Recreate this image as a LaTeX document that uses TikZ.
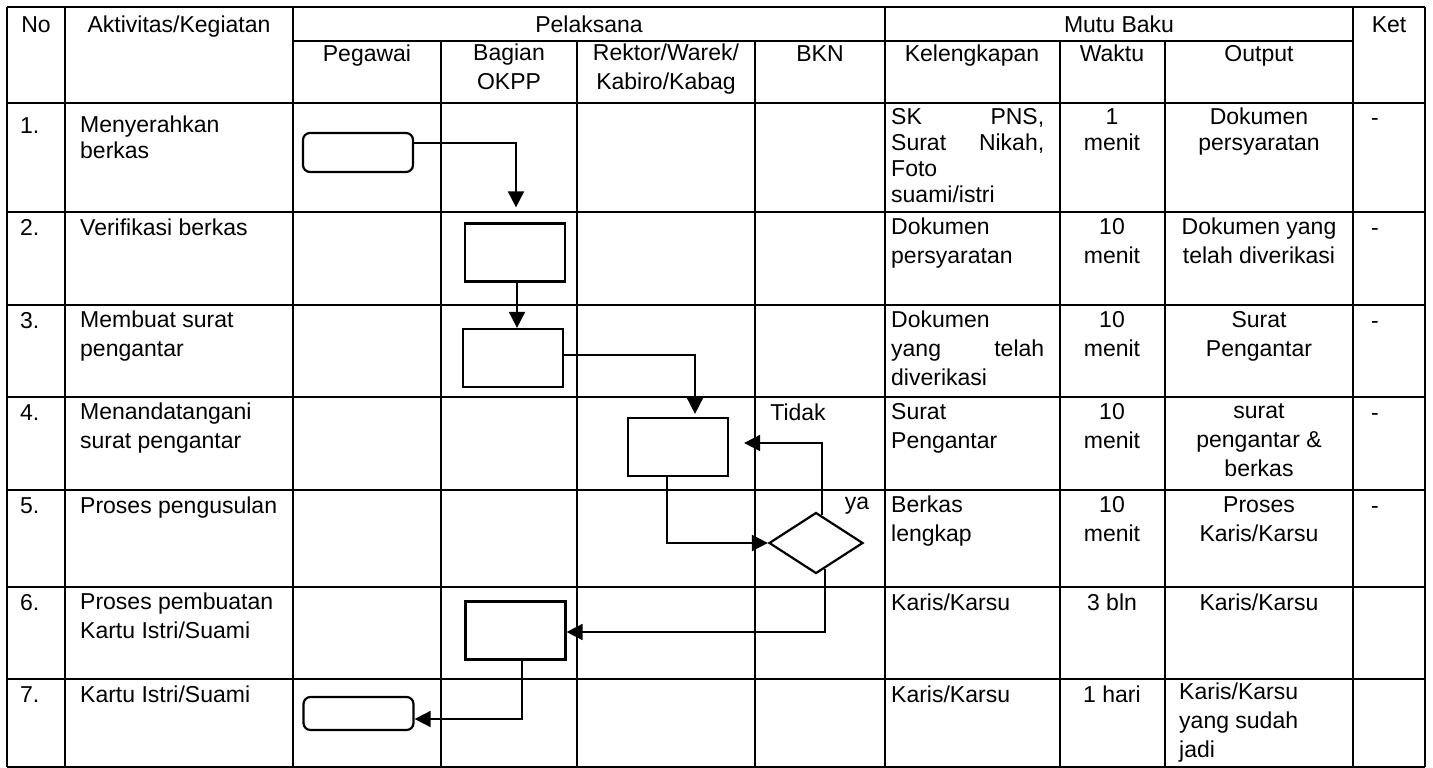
\documentclass[tikz,border=0pt]{standalone}
\usepackage{fontspec}
\setmainfont{Liberation Sans}
\usetikzlibrary{arrows.meta,shapes.geometric}
\newcommand\fb{\fontsize{23}{29}\selectfont}
\newcommand\fa{\fontsize{23}{25.5}\selectfont}
\newcommand\fm{\fontsize{23}{26}\selectfont}
\newcommand\hs{\rule{0pt}{17pt}}
\newcommand\jl[1]{\makebox[153pt][s]{#1}}
\begin{document}
\begin{tikzpicture}[x=1pt,y=-1pt,
  tbl/.style={line width=1.4pt},
  shp/.style={draw, line width=2.2pt, inner sep=0pt},
  proc/.style={shp, rectangle, minimum width=100pt, minimum height=58pt},
  term/.style={shp, rectangle, rounded corners=7pt, minimum width=110pt},
  dec/.style={shp, diamond, minimum width=94pt, minimum height=61pt},
  flow/.style={line width=1.7pt, -{Triangle[length=16pt,width=16pt]}},
  ct/.style={inner sep=0pt, anchor=north, align=center, font=\fb, execute at begin node={\hs}},
  lt/.style={inner sep=0pt, anchor=north west, align=left, font=\fb, execute at begin node={\hs}},
  lab/.style={inner sep=0pt, font=\fb},
]
\useasboundingbox (0,0) rectangle (1433,768);
% ---------------- table grid ----------------
\foreach \y in {7,103,212,305,397,490,587,679,767}
  \draw[tbl] (7,\y) -- (1425,\y);
\draw[tbl] (293,41) -- (1353,41);
\foreach \x in {7,65,293,885,1353,1425}
  \draw[tbl] (\x,7) -- (\x,767);
\foreach \x in {441,577,755,1060,1165}
  \draw[tbl] (\x,41) -- (\x,767);
% ---------------- headers ----------------
\node[ct] (hNo)  at (36,15)   {No};
\node[ct] (hAkt) at (179,15)  {Aktivitas/Kegiatan};
\node[ct] (hPel) at (589,15)  {Pelaksana};
\node[ct] (hMut) at (1119,15) {Mutu Baku};
\node[ct] (hKet) at (1389,15) {Ket};
\node[ct] (hPeg) at (367,44)  {Pegawai};
\node[ct] (hBag) at (509,44)  {Bagian\\OKPP};
\node[ct] (hRek) at (666,44)  {Rektor/Warek/\\Kabiro/Kabag};
\node[ct] (hBKN) at (820,44)  {BKN};
\node[ct] (hKel) at (972,44)  {Kelengkapan};
\node[ct] (hWak) at (1112,44) {Waktu};
\node[ct] (hOut) at (1259,44) {Output};
% ---------------- row 1 ----------------
\node[lt,font=\fa] (n1) at (20,116) {1.};
\node[lt,font=\fa] (a1) at (80,116) {Menyerahkan\\berkas};
\node[lt,font=\fm] (k1) at (891,108) {\jl{SK PNS,}\\\jl{Surat Nikah,}\\Foto\\suami/istri};
\node[ct,font=\fm] (w1) at (1112,108) {1\\menit};
\node[ct,font=\fm] (o1) at (1259,108) {Dokumen\\persyaratan};
\node[lt,font=\fm] (e1) at (1371,108) {-};
% ---------------- row 2 ----------------
\node[lt] (n2) at (20,218) {2.};
\node[lt] (a2) at (80,218) {Verifikasi berkas};
\node[lt] (k2) at (891,218) {Dokumen\\persyaratan};
\node[ct] (w2) at (1112,218) {10\\menit};
\node[ct] (o2) at (1259,218) {Dokumen yang\\telah diverikasi};
\node[lt] (e2) at (1371,218) {-};
% ---------------- row 3 ----------------
\node[lt] (n3) at (20,311) {3.};
\node[lt] (a3) at (80,311) {Membuat surat\\pengantar};
\node[lt] (k3) at (891,311) {Dokumen\\\jl{yang telah}\\diverikasi};
\node[ct] (w3) at (1112,311) {10\\menit};
\node[ct] (o3) at (1259,311) {Surat\\Pengantar};
\node[lt] (e3) at (1371,311) {-};
% ---------------- row 4 ----------------
\node[lt] (n4) at (20,403) {4.};
\node[lt] (a4) at (80,403) {Menandatangani\\surat pengantar};
\node[lt] (k4) at (891,403) {Surat\\Pengantar};
\node[ct] (w4) at (1112,403) {10\\menit};
\node[ct] (o4) at (1259,403) {surat\\pengantar \&\\berkas};
\node[lt] (e4) at (1371,403) {-};
% ---------------- row 5 ----------------
\node[lt] (n5) at (20,496) {5.};
\node[lt] (a5) at (80,496) {Proses pengusulan};
\node[lt] (k5) at (891,496) {Berkas\\lengkap};
\node[ct] (w5) at (1112,496) {10\\menit};
\node[ct] (o5) at (1259,496) {Proses\\Karis/Karsu};
\node[lt] (e5) at (1371,496) {-};
% ---------------- row 6 ----------------
\node[lt] (n6) at (20,593) {6.};
\node[lt] (a6) at (80,593) {Proses pembuatan\\Kartu Istri/Suami};
\node[lt] (k6) at (891,593) {Karis/Karsu};
\node[ct] (w6) at (1112,593) {3 bln};
\node[ct] (o6) at (1259,593) {Karis/Karsu};
% ---------------- row 7 ----------------
\node[lt] (n7) at (20,685) {7.};
\node[lt] (a7) at (80,685) {Kartu Istri/Suami};
\node[lt] (k7) at (891,685) {Karis/Karsu};
\node[ct] (w7) at (1112,685) {1 hari};
\node[lt] (o7) at (1179,683) {Karis/Karsu\\yang sudah\\jadi};
% ---------------- flowchart ----------------
\node[term, minimum height=39pt] (t1) at (358,152.5) {};
\node[proc] (p2) at (515,252.5) {};
\node[proc] (p3) at (513,358) {};
\node[proc] (p4) at (678,447) {};
\node[dec]  (d5) at (816,543) {};
\node[proc] (p6) at (515.5,630.5) {};
\node[term, minimum height=33pt] (t7) at (358.5,713.5) {};
\node[lab] (lTidak) at (798,412) {Tidak};
\node[lab] (lYa) at (857,506) {ya};
\draw[flow] ([yshift=9.5pt]t1.east) -| ([xshift=1pt,yshift=15pt]p2.north);
\draw[flow] ([xshift=2pt]p2.south) -- ([xshift=4pt]p3.north);
\draw[flow] ([yshift=3pt]p3.east) -| ([xshift=17pt,yshift=3pt]p4.north);
\draw[flow] ([xshift=-11pt]p4.south) |- (d5.west);
\draw[flow] ([xshift=6pt,yshift=-4pt]d5.north) |- ([xshift=15pt,yshift=4pt]p4.east);
\draw[flow] ([xshift=9pt,yshift=6pt]d5.south) |- ([yshift=-1.5pt]p6.east);
\draw[flow] ([xshift=6.5pt]p6.south) |- ([yshift=-5.5pt]t7.east);
\end{tikzpicture}
\end{document}
